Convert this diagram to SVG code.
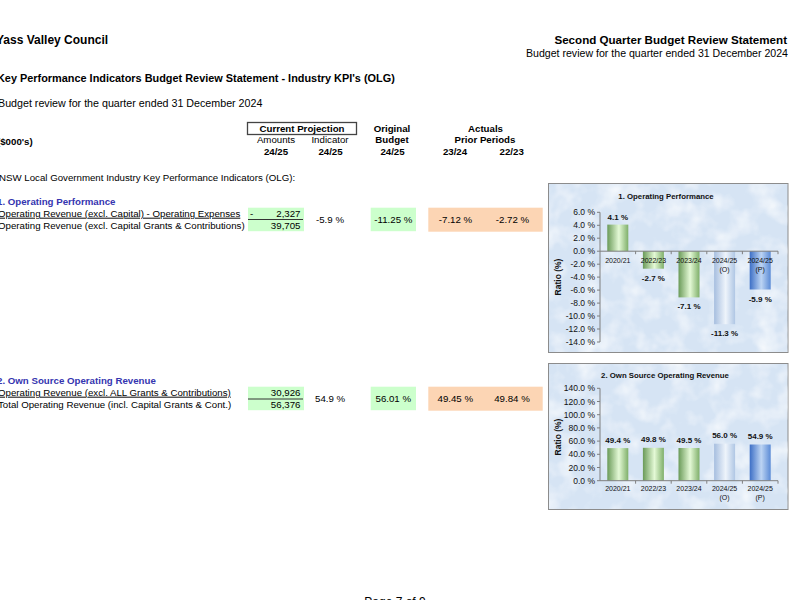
<svg xmlns="http://www.w3.org/2000/svg" width="790" height="600" viewBox="0 0 790 600">
<style>
text{font-family:"Liberation Sans",Arial,sans-serif;fill:#000}
.b{font-weight:bold}
.h{font-size:9.7px}
.c{text-anchor:middle}
.r{text-anchor:end}
.blue{fill:#3535b0;font-weight:bold;font-size:9.7px}
.grn{fill:#ccffcc}
.org{fill:#fcd5b4}
.ax{stroke:#7f7f7f;stroke-width:1;fill:none}
.yl{font-size:8.5px;text-anchor:end;fill:#111}
.cl{font-size:7px;text-anchor:middle;fill:#111}
.dl{font-size:8px;font-weight:bold;text-anchor:middle;fill:#111}
.ct{font-size:7.8px;font-weight:bold;text-anchor:middle;fill:#111}
.yt{font-size:8.5px;font-weight:bold;text-anchor:middle;fill:#111}
.frame{fill:#d6e4f4;stroke:#8c8c8c;stroke-width:1}
</style>
<defs>
<linearGradient id="gG" x1="0" y1="0" x2="1" y2="0">
<stop offset="0" stop-color="#6a9a58"/><stop offset="0.55" stop-color="#e4f9d6"/><stop offset="1" stop-color="#7faf6a"/>
</linearGradient>
<linearGradient id="gO" x1="0" y1="0" x2="1" y2="0">
<stop offset="0" stop-color="#a6bedf"/><stop offset="0.55" stop-color="#eef4fb"/><stop offset="1" stop-color="#afc6e4"/>
</linearGradient>
<linearGradient id="gP" x1="0" y1="0" x2="1" y2="0">
<stop offset="0" stop-color="#3d6fc6"/><stop offset="0.55" stop-color="#bcd4f3"/><stop offset="1" stop-color="#5b8bd6"/>
</linearGradient>
<filter id="mottle" x="0" y="0" width="100%" height="100%">
<feTurbulence type="fractalNoise" baseFrequency="0.045" numOctaves="3" seed="4"/>
<feColorMatrix type="matrix" values="0 0 0 0 1  0 0 0 0 1  0 0 0 0 1  0 0 0 1.8 -0.75"/>
</filter>
</defs>

<g id="header">
<text class="b" x="-4" y="44" font-size="12">Yass Valley Council</text>
<text class="b r" x="787" y="44" font-size="11.6">Second Quarter Budget Review Statement</text>
<text class="r" x="788" y="57" font-size="10.6">Budget review for the quarter ended 31 December 2024</text>
<text class="b" x="-3" y="82" font-size="10.9">Key Performance Indicators Budget Review Statement - Industry KPI's (OLG)</text>
<text x="-2" y="107" font-size="10.7">Budget review for the quarter ended 31 December 2024</text>
</g>

<g id="table-header">
<rect x="247.5" y="122.5" width="109" height="12" fill="none" stroke="#444" stroke-width="1.3"/>
<text class="h b c" x="302" y="131.7">Current Projection</text>
<text class="h c" x="276" y="143.3">Amounts</text>
<text class="h c" x="330" y="143.3">Indicator</text>
<text class="h b c" x="276" y="155">24/25</text>
<text class="h b c" x="330.5" y="155">24/25</text>
<text class="h b c" x="392" y="131.7">Original</text>
<text class="h b c" x="392" y="143.3">Budget</text>
<text class="h b c" x="392.5" y="155">24/25</text>
<text class="h b c" x="485.5" y="131.7">Actuals</text>
<text class="h b c" x="485" y="143.3">Prior Periods</text>
<text class="h b c" x="455" y="155">23/24</text>
<text class="h b c" x="511.7" y="155">22/23</text>
<text class="h b" x="-3" y="144.5">($000's)</text>
<text class="h" x="-1" y="181">NSW Local Government Industry Key Performance Indicators (OLG):</text>
</g>

<g id="kpi-1">
<text class="blue" x="-3" y="205">1. Operating Performance</text>
<text class="h" x="-2" y="216.7" text-decoration="underline">Operating Revenue (excl. Capital) - Operating Expenses</text>
<text class="h" x="-2" y="228.5">Operating Revenue (excl. Capital Grants &amp; Contributions)</text>
<rect class="grn" x="248" y="207.7" width="56" height="23.5"/>
<line x1="248" y1="219.5" x2="303" y2="219.5" stroke="#333" stroke-width="1"/>
<text class="h" x="250" y="216.7">-</text>
<text class="h r" x="300.5" y="216.7">2,327</text>
<text class="h r" x="300.5" y="228.5">39,705</text>
<text class="h" x="316" y="222.5">-5.9 %</text>
<rect class="grn" x="370.7" y="207.7" width="45.3" height="23.5"/>
<text class="h c" x="393.3" y="222.5">-11.25 %</text>
<rect class="org" x="428.3" y="207.7" width="114.4" height="24"/>
<text class="h c" x="455.5" y="222.5">-7.12 %</text>
<text class="h c" x="512.5" y="222.5">-2.72 %</text>
</g>

<g id="kpi-2">
<text class="blue" x="-3" y="384">2. Own Source Operating Revenue</text>
<text class="h" x="-2" y="395.7" text-decoration="underline">Operating Revenue (excl. ALL Grants &amp; Contributions)</text>
<text class="h" x="-2" y="407.7">Total Operating Revenue (incl. Capital Grants &amp; Cont.)</text>
<rect class="grn" x="248" y="386.7" width="56" height="23.5"/>
<line x1="248" y1="399" x2="303" y2="399" stroke="#333" stroke-width="1"/>
<text class="h r" x="300.5" y="395.7">30,926</text>
<text class="h r" x="300.5" y="407.7">56,376</text>
<text class="h" x="315" y="401.7">54.9 %</text>
<rect class="grn" x="370.7" y="386.7" width="45.3" height="23.5"/>
<text class="h c" x="393.3" y="401.7">56.01 %</text>
<rect class="org" x="428.3" y="386.7" width="114.4" height="24"/>
<text class="h c" x="455.3" y="401.7">49.45 %</text>
<text class="h c" x="512" y="401.7">49.84 %</text>
</g>

<g id="chart-1">
<rect class="frame" x="548.5" y="183.5" width="239.5" height="169"/>
<rect x="549" y="184" width="238.5" height="168" filter="url(#mottle)" opacity="0.85"/>
<text class="ct" x="666" y="199">1. Operating Performance</text>
<text class="yt" transform="translate(561,277) rotate(-90)">Ratio (%)</text>
<g id="chart-1-axis-labels">
<text class="yl" x="595" y="215.3">6.0 %</text>
<text class="yl" x="595" y="228.3">4.0 %</text>
<text class="yl" x="595" y="241.2">2.0 %</text>
<text class="yl" x="595" y="254.2">0.0 %</text>
<text class="yl" x="595" y="267.2">-2.0 %</text>
<text class="yl" x="595" y="280.1">-4.0 %</text>
<text class="yl" x="595" y="293.1">-6.0 %</text>
<text class="yl" x="595" y="306.1">-8.0 %</text>
<text class="yl" x="595" y="319">-10.0 %</text>
<text class="yl" x="595" y="332">-12.0 %</text>
<text class="yl" x="595" y="345">-14.0 %</text>
</g>
<g id="chart-1-bars">
<rect x="607.3" y="224.6" width="21" height="26.6" fill="url(#gG)"/>
<rect x="642.9" y="251.2" width="21" height="17.5" fill="url(#gG)"/>
<rect x="678.5" y="251.2" width="21" height="46.2" fill="url(#gG)"/>
<rect x="714.1" y="251.2" width="21" height="73" fill="url(#gO)"/>
<rect x="749.7" y="251.2" width="21" height="38.3" fill="url(#gP)"/>
</g>
<path class="ax" d="M600,212.3V342M597,212.3H600M597,225.3H600M597,238.2H600M597,251.2H600M597,264.2H600M597,277.1H600M597,290.1H600M597,303.1H600M597,316H600M597,329H600M597,342H600M600,251.2H778M635.6,251.2v3M671.2,251.2v3M706.8,251.2v3M742.4,251.2v3M778,251.2v3"/>
<g id="chart-1-cats">
<text class="cl" x="617.8" y="263">2020/21</text>
<text class="cl" x="653.4" y="263">2022/23</text>
<text class="cl" x="689" y="263">2023/24</text>
<text class="cl" x="724.6" y="263">2024/25</text>
<text class="cl" x="724.6" y="272">(O)</text>
<text class="cl" x="760.2" y="263">2024/25</text>
<text class="cl" x="760.2" y="272">(P)</text>
</g>
<g id="chart-1-values">
<text class="dl" x="617.8" y="219.6">4.1 %</text>
<text class="dl" x="653.4" y="280.7">-2.7 %</text>
<text class="dl" x="689" y="309.4">-7.1 %</text>
<text class="dl" x="724.6" y="336.2">-11.3 %</text>
<text class="dl" x="760.2" y="301.5">-5.9 %</text>
</g>
</g>

<g id="chart-2">
<rect class="frame" x="548.5" y="363.5" width="239.5" height="146"/>
<rect x="549" y="364" width="238.5" height="145" filter="url(#mottle)" opacity="0.85"/>
<text class="ct" x="665" y="378">2. Own Source Operating Revenue</text>
<text class="yt" transform="translate(561,437) rotate(-90)">Ratio (%)</text>
<g id="chart-2-axis-labels">
<text class="yl" x="595" y="391.3">140.0 %</text>
<text class="yl" x="595" y="404.5">120.0 %</text>
<text class="yl" x="595" y="417.7">100.0 %</text>
<text class="yl" x="595" y="430.9">80.0 %</text>
<text class="yl" x="595" y="444.1">60.0 %</text>
<text class="yl" x="595" y="457.3">40.0 %</text>
<text class="yl" x="595" y="470.5">20.0 %</text>
<text class="yl" x="595" y="483.7">0.0 %</text>
</g>
<g id="chart-2-bars">
<rect x="607.3" y="448.1" width="21" height="32.6" fill="url(#gG)"/>
<rect x="642.9" y="447.8" width="21" height="32.9" fill="url(#gG)"/>
<rect x="678.5" y="448" width="21" height="32.7" fill="url(#gG)"/>
<rect x="714.1" y="443.7" width="21" height="37" fill="url(#gO)"/>
<rect x="749.7" y="444.5" width="21" height="36.2" fill="url(#gP)"/>
</g>
<path class="ax" d="M600,388.3V480.7M597,388.3H600M597,401.5H600M597,414.7H600M597,427.9H600M597,441.1H600M597,454.3H600M597,467.5H600M597,480.7H600M600,480.7H778M635.6,480.7v3M671.2,480.7v3M706.8,480.7v3M742.4,480.7v3M778,480.7v3"/>
<g id="chart-2-cats">
<text class="cl" x="617.8" y="491">2020/21</text>
<text class="cl" x="653.4" y="491">2022/23</text>
<text class="cl" x="689" y="491">2023/24</text>
<text class="cl" x="724.6" y="491">2024/25</text>
<text class="cl" x="724.6" y="500">(O)</text>
<text class="cl" x="760.2" y="491">2024/25</text>
<text class="cl" x="760.2" y="500">(P)</text>
</g>
<g id="chart-2-values">
<text class="dl" x="617.8" y="442.6">49.4 %</text>
<text class="dl" x="653.4" y="442.3">49.8 %</text>
<text class="dl" x="689" y="442.5">49.5 %</text>
<text class="dl" x="724.6" y="438.2">56.0 %</text>
<text class="dl" x="760.2" y="439">54.9 %</text>
</g>
</g>

<g id="footer">
<text class="c" x="395" y="606" font-size="12">Page 7 of 9</text>
</g>
</svg>
